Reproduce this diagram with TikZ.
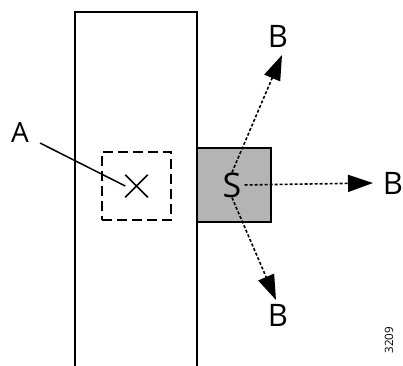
\documentclass[tikz,border=0pt]{standalone}
\usepackage{fontspec}
\usepackage{tikz}
\usetikzlibrary{arrows.meta,positioning,shapes.misc}
\newfontfamily\figfont{Open Sans}
\definecolor{srcgray}{HTML}{B4B4B4}

\begin{document}
\begin{tikzpicture}[x=1pt, y=-1pt,
    wall/.style={line width=2pt, line join=miter},
    srcbox/.style={rectangle, draw, line width=2pt, fill=srcgray, minimum width=74pt, minimum height=74pt},
    zone/.style={rectangle, draw, line width=1.5pt, dash pattern=on 10pt off 5pt, minimum width=69pt, minimum height=68pt},
    lbl/.style={font=\figfont\fontsize{31}{31}\selectfont, inner sep=0pt},
    ray/.style={-{Triangle[length=25pt,width=17pt]}, line width=1.6pt, dash pattern=on 3pt off 2pt},
    leader/.style={line width=1.5pt}
]
    \useasboundingbox (0,0) rectangle (403,365);

    % Wall
    \draw[wall] (75,366) -- (75,12) -- (197,12) -- (197,366);

    % Nodes
    \node[zone] (zone) at (136.5,186) {};
    \node[cross out, draw, line width=1.5pt, minimum size=21pt, inner sep=0pt] (cross) at (136.5,186) {};
    \node[srcbox] (src) at (234,185) {};
    \node[lbl, font=\figfont\fontsize{34}{34}\selectfont] (S) at (232,185) {S};
    \node[lbl, font=\figfont\fontsize{28}{28}\selectfont] (A) at (20,132) {A};
    \node[lbl] (Bn) at (278,36) {B};
    \node[lbl] (Be) at (393,183) {B};
    \node[lbl] (Bs) at (278,315) {B};
    \node[font=\figfont\fontsize{11.5}{11.5}\selectfont, rotate=90, inner sep=0pt] (fig) at (389,340) {3209};

    % Arrow tips
    \coordinate (tipN) at (282,55);
    \coordinate (tipE) at (373,183);
    \coordinate (tipS) at (276,300);

    % Arrows
    \draw[leader] (A) ++(20,11) -- (cross.west);
    \draw[ray] (S.north) -- (tipN);
    \draw[ray, shorten <=3pt] (S.east) -- (tipE);
    \draw[ray] (S.south) -- (tipS);
\end{tikzpicture}
\end{document}
